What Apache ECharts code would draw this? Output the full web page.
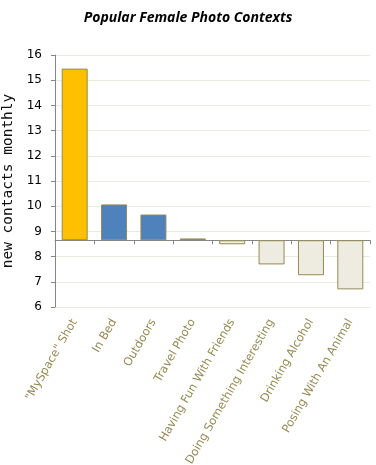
<!DOCTYPE html>
<html>
<head>
<meta charset="utf-8">
<script src="https://cdn.jsdelivr.net/npm/echarts@6/dist/echarts.min.js"></script>
<style>
  html, body { margin: 0; padding: 0; background: #fff; }
  #chart { width: 376px; height: 465px; }
</style>
</head>
<body>
<div id="chart"></div>
<script>
// chart data
var categories = ['"MySpace" Shot', 'In Bed', 'Outdoors', 'Travel Photo',
  'Having Fun With Friends', 'Doing Something Interesting', 'Drinking Alcohol', 'Posing With An Animal'];
var contacts = [15.46, 10.07, 9.67, 8.72, 8.49, 7.69, 7.26, 6.70];
var barColors = ['#FFC000', '#4F81BD', '#4F81BD', '#4F81BD', '#EEECE1', '#EEECE1', '#EEECE1', '#EEECE1'];
var baseline = 8.65; // where the category axis crosses
var yMin = 6;
var yMax = 16;

var chart = echarts.init(document.getElementById('chart'));

// bars grow from the baseline, so the value axis is shifted by it
var barData = contacts.map(function (v, i) {
  return {
    value: +(v - baseline).toFixed(2),
    itemStyle: { color: barColors[i] }
  };
});

chart.setOption({
  animation: false,
  textStyle: { fontFamily: 'DejaVu Sans' },
  title: {
    text: 'Popular Female Photo Contexts',
    left: 'center',
    top: 6,
    textStyle: {
      fontFamily: 'Open Sans',
      fontSize: 14,
      fontWeight: 'bold',
      fontStyle: 'italic',
      color: '#000'
    }
  },
  grid: { left: 55, right: 6, top: 55, bottom: 158, outerBoundsMode: 'none', containLabel: false },
  xAxis: [
    {
      type: 'category',
      data: categories,
      position: 'bottom',
      axisLine: { onZero: true, lineStyle: { color: '#868686', width: 1 } },
      axisTick: { show: true, interval: 0, length: 4, lineStyle: { color: '#868686' } },
      axisLabel: { show: false, interval: 0 }
    },
    {
      type: 'category',
      data: categories,
      position: 'bottom',
      axisLine: { show: false },
      axisTick: { show: false },
      axisLabel: {
        rotate: 60,
        interval: 0,
        margin: 13,
        fontSize: 11.5,
        color: '#948A54'
      }
    }
  ],
  yAxis: {
    type: 'value',
    min: yMin - baseline,
    max: yMax - baseline,
    interval: 1,
    name: 'new contacts monthly',
    nameLocation: 'middle',
    nameGap: 31,
    nameTextStyle: { fontFamily: 'DejaVu Sans Mono', fontSize: 14.5, color: '#111' },
    axisLine: { show: true, lineStyle: { color: '#868686' } },
    axisTick: { show: true, length: 4, lineStyle: { color: '#868686' } },
    axisLabel: {
      fontSize: 12,
      color: '#000',
      margin: 13,
      formatter: function (v) { return Math.round(v + baseline); }
    },
    splitLine: { lineStyle: { color: '#ECEADF' } }
  },
  series: [{
    type: 'bar',
    xAxisIndex: 0,
    data: barData,
    barWidth: '66%',
    itemStyle: { borderColor: '#948A54', borderWidth: 1 }
  }]
});
</script>
</body>
</html>
